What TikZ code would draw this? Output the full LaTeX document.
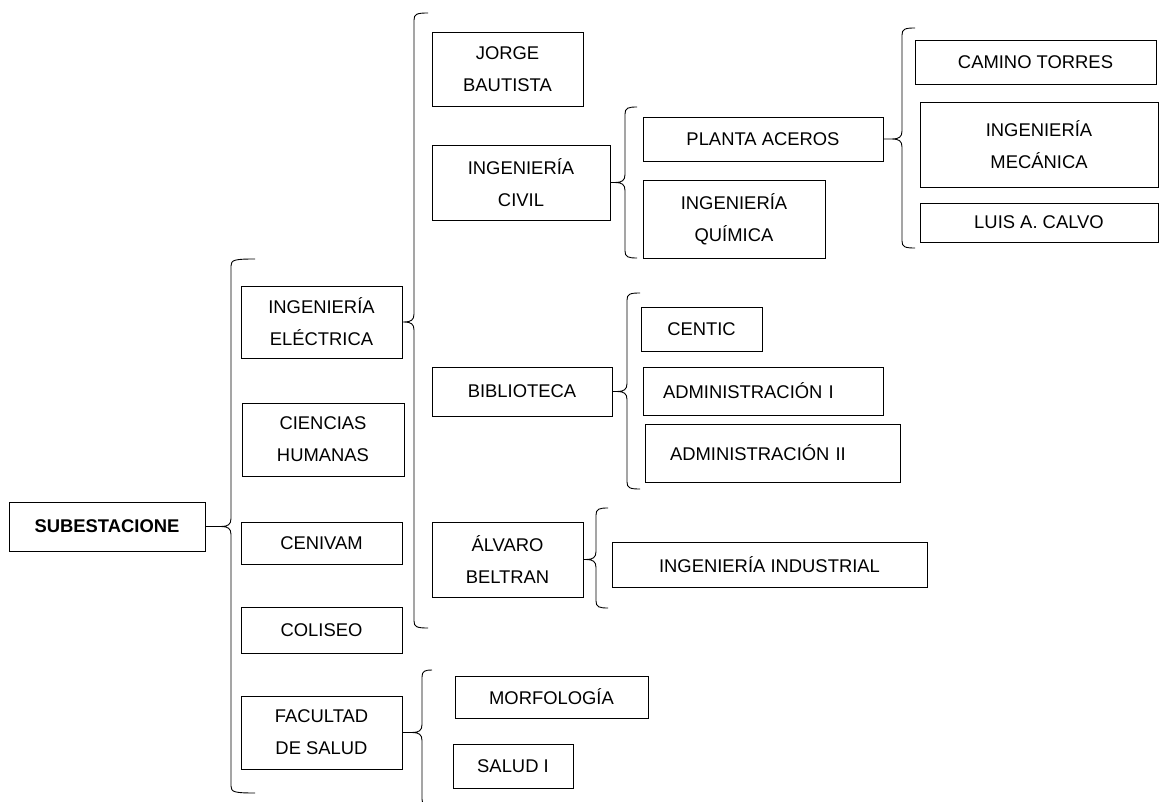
\documentclass[tikz,border=0pt]{standalone}
\usepackage{fontspec}
\setmainfont{Liberation Sans}
\usetikzlibrary{calc}
\tikzset{
Box/.style={
	draw=black,
	rectangle,
	align=center,
	inner sep=0pt,
	line width=0.9pt,
	font=\fontsize{18.4}{32}\selectfont
},
BoldBox/.style={
	Box,
	font=\fontsize{18.4}{32}\selectfont\bfseries
},
LeftBox/.style={
	Box,
	align=left
},
Brace/.style={
	draw=black,
	line width=0.9pt
}
}
% #1 curl length, #2 parent node, #3 bar x, #4 top y, #5 bottom y
\newcommand{\drawbrace}[5][12]{%
	\draw[Brace] let \p1=(#2.east) in
		(\p1) -- (#3pt-10pt,\y1)
		.. controls (#3pt-3pt,\y1) and (#3pt,\y1+2pt) .. (#3pt,\y1+8pt)
		-- (#3pt,-#4pt-7pt)
		.. controls (#3pt,-#4pt-1pt) and (#3pt+3pt,-#4pt) .. (#3pt+#1pt,-#4pt)
		(#3pt-10pt,\y1)
		.. controls (#3pt-3pt,\y1) and (#3pt,\y1-2pt) .. (#3pt,\y1-8pt)
		-- (#3pt,-#5pt+7pt)
		.. controls (#3pt,-#5pt+1pt) and (#3pt+3pt,-#5pt) .. (#3pt+#1pt,-#5pt);
}

\begin{document}
\begin{tikzpicture}[x=1pt, y=-1pt]
	\useasboundingbox (0,0) rectangle (1160,802);

	\node[BoldBox, minimum width=196pt, minimum height=49pt] (sub) at (107,526.5) {SUBESTACIONE};

	\node[Box, minimum width=161pt, minimum height=72pt] (ie) at (321.5,322) {INGENIERÍA\\ELÉCTRICA};
	\node[Box, minimum width=162pt, minimum height=73pt] (ch) at (323,439.5) {CIENCIAS\\HUMANAS};
	\node[Box, minimum width=161pt, minimum height=42pt] (cen) at (321.5,543) {CENIVAM};
	\node[Box, minimum width=161pt, minimum height=46pt] (col) at (321.5,630) {COLISEO};
	\node[Box, minimum width=161pt, minimum height=73pt] (fs) at (321.5,732.5) {FACULTAD\\DE SALUD};

	\node[Box, minimum width=151pt, minimum height=74pt] (jb) at (507.5,69) {JORGE\\BAUTISTA};
	\node[Box, minimum width=178pt, minimum height=75pt] (ic) at (521,182.5) {INGENIERÍA\\CIVIL};
	\node[Box, minimum width=180pt, minimum height=49pt] (bib) at (522,391.5) {BIBLIOTECA};
	\node[Box, minimum width=151pt, minimum height=75pt] (ab) at (507.5,559.5) {ÁLVARO\\BELTRAN};

	\node[Box, minimum width=240pt, minimum height=44pt] (pa) at (763,139) {PLANTA ACEROS};
	\node[Box, minimum width=182pt, minimum height=78pt] (iq) at (734,219) {INGENIERÍA\\QUÍMICA};

	\node[Box, minimum width=241pt, minimum height=44pt] (ct) at (1035.5,62) {CAMINO TORRES};
	\node[Box, minimum width=238pt, minimum height=85pt] (im) at (1039,144.5) {INGENIERÍA\\MECÁNICA};
	\node[Box, minimum width=238pt, minimum height=39pt] (lc) at (1039,222.5) {LUIS A. CALVO};

	\node[Box, minimum width=121pt, minimum height=44pt] (centic) at (701.5,329) {CENTIC};
	\node[LeftBox, text width=200pt, inner xsep=20pt, minimum height=48pt] (adm1) at (763,391) {ADMINISTRACIÓN I};
	\node[LeftBox, text width=205pt, inner xsep=25pt, minimum height=58pt] (adm2) at (772.5,453) {ADMINISTRACIÓN II};

	\node[Box, minimum width=315pt, minimum height=45pt] (ii) at (769.5,564.5) {INGENIERÍA INDUSTRIAL};

	\node[Box, minimum width=193pt, minimum height=42pt] (morf) at (551.5,697) {MORFOLOGÍA};
	\node[Box, minimum width=120pt, minimum height=44pt] (sal) at (513,766) {SALUD I};

	\drawbrace[24]{sub}{231}{259}{793}
	\drawbrace[14]{ie}{414}{13}{628}
	\drawbrace[12]{ic}{625}{107}{258}
	\drawbrace[13]{pa}{902}{28}{248}
	\drawbrace[13]{bib}{627}{293}{489}
	\drawbrace[12]{ab}{596}{508}{608}
	\drawbrace[10]{fs}{422}{670}{806}
\end{tikzpicture}
\end{document}
